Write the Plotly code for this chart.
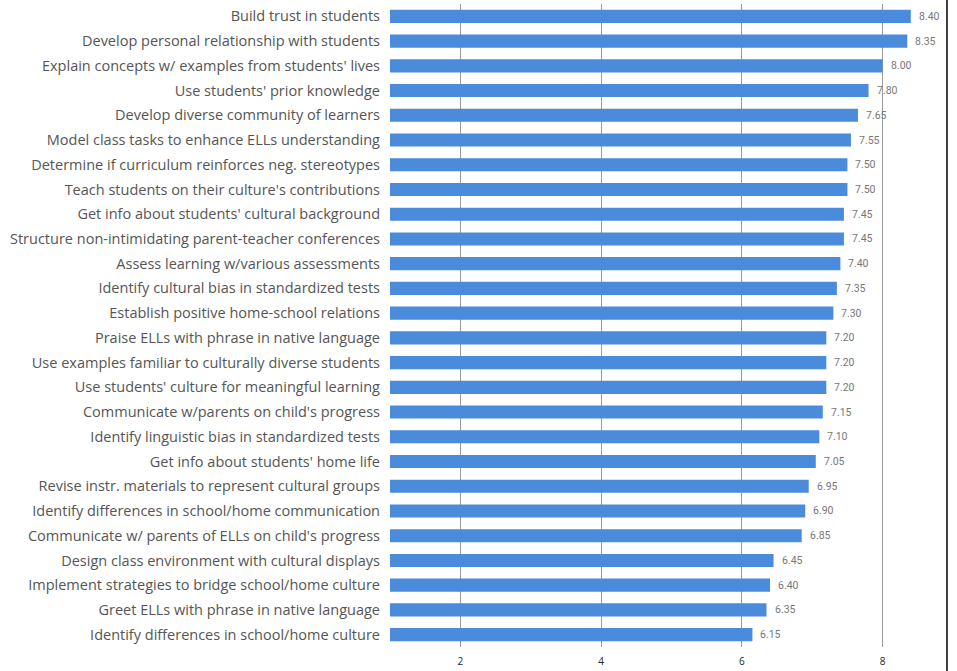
import plotly.graph_objects as go

categories = [
    "Build trust in students",
    "Develop personal relationship with students",
    "Explain concepts w/ examples from students' lives",
    "Use students' prior knowledge",
    "Develop diverse community of learners",
    "Model class tasks to enhance ELLs understanding",
    "Determine if curriculum reinforces neg. stereotypes",
    "Teach students on their culture's contributions",
    "Get info about students' cultural background",
    "Structure non-intimidating parent-teacher conferences",
    "Assess learning w/various assessments",
    "Identify cultural bias in standardized tests",
    "Establish positive home-school relations",
    "Praise ELLs with phrase in native language",
    "Use examples familiar to culturally diverse students",
    "Use students' culture for meaningful learning",
    "Communicate w/parents on child's progress",
    "Identify linguistic bias in standardized tests",
    "Get info about students' home life",
    "Revise instr. materials to represent cultural groups",
    "Identify differences in school/home communication",
    "Communicate w/ parents of ELLs on child's progress",
    "Design class environment with cultural displays",
    "Implement strategies to bridge school/home culture",
    "Greet ELLs with phrase in native language",
    "Identify differences in school/home culture",
]
values = [8.40, 8.35, 8.00, 7.80, 7.65, 7.55, 7.50, 7.50, 7.45, 7.45, 7.40, 7.35, 7.30,
          7.20, 7.20, 7.20, 7.15, 7.10, 7.05, 6.95, 6.90, 6.85, 6.45, 6.40, 6.35, 6.15]
x_ticks = [2, 4, 6, 8]

fig = go.Figure()
fig.add_trace(go.Bar(
    y=categories, x=values, orientation="h",
    marker=dict(color="#4A8BDC", line=dict(width=0)),
    width=0.53, hoverinfo="x+y",
))

for c, v in zip(categories, values):
    fig.add_annotation(x=v, y=c, text=f"{v:.2f}", showarrow=False,
                       xanchor="left", xshift=6, yshift=0,
                       font=dict(family="Roboto", size=10.5, color="#777777"))

# right border line
fig.add_shape(type="line", xref="paper", yref="paper", x0=0.9893, x1=0.9893,
              y0=-0.05, y1=1.01, line=dict(color="#000000", width=1.5))

fig.update_layout(
    width=957, height=671,
    margin=dict(l=390, r=4, t=4, b=24),
    paper_bgcolor="white", plot_bgcolor="white",
    showlegend=False,
    bargap=0.47,
    xaxis=dict(range=[1, 9], tickvals=x_ticks, ticktext=[str(t) for t in x_ticks],
               showgrid=True, gridcolor="#9a9a9a", gridwidth=1,
               zeroline=False, showline=False, ticklabelstandoff=7,
               tickfont=dict(family="Open Sans", size=10, color="#222222")),
    yaxis=dict(autorange="reversed", showgrid=False, zeroline=False, showline=False,
               ticklabelstandoff=9,
               tickfont=dict(family="Open Sans", size=14.5, color="#555555")),
)

fig.write_html("out.html", config={"displayModeBar": False},
               post_script="document.body.style.margin='0';")
